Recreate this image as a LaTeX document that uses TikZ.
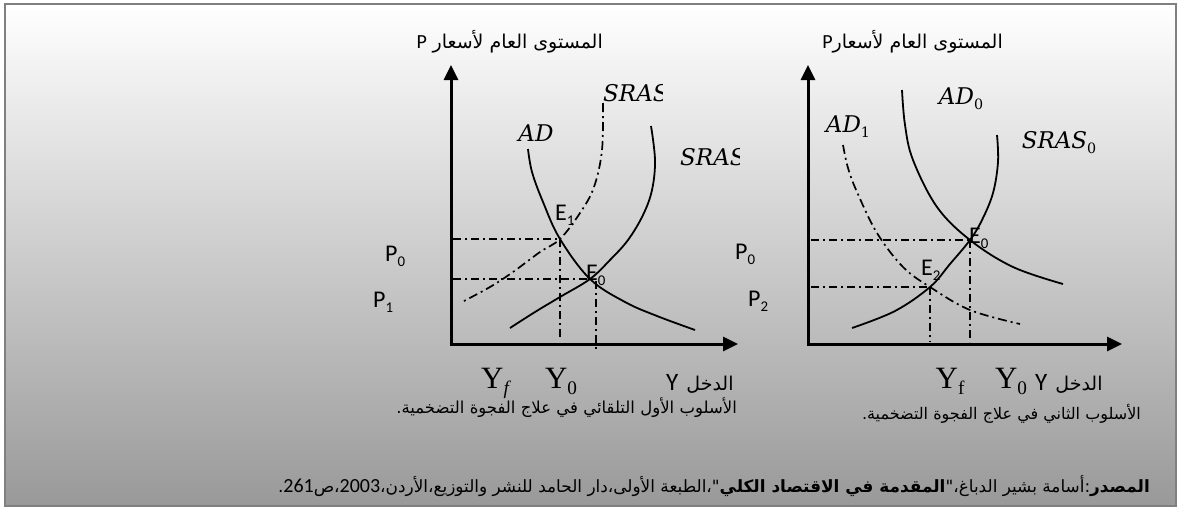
\documentclass[tikz,border=0pt]{standalone}
\usepackage{fontspec}
\usetikzlibrary{arrows.meta}
\TeXXeTstate=1
\newfontfamily\arabicfont[Script=Arabic]{DejaVu Sans}
\newfontfamily\carl{Carlito}
\newfontfamily\dvserif{DejaVu Serif}
\newfontfamily\libserif{Liberation Serif}
\newcommand{\arb}[1]{{\arabicfont\beginR #1\endR}}
\newcommand{\sbs}[1]{\raisebox{-0.22em}{\scalebox{0.62}{#1}}}
\begin{document}
\begin{tikzpicture}[x=1pt,y=-1pt,
  axisline/.style={line width=3pt,{Triangle[length=15pt,width=14pt]}-{Triangle[length=15pt,width=14pt]}},
  curve/.style={line width=1.8pt},
  dcurve/.style={line width=1.7pt,dash pattern=on 9pt off 4pt on 2pt off 4pt},
  guide/.style={line width=1.6pt,dash pattern=on 8pt off 4pt on 2pt off 4pt},
  lbl/.style={font=\carl\fontsize{24}{26}\selectfont,inner sep=0pt},
  mlab/.style={font=\dvserif\itshape\fontsize{23}{25}\selectfont,inner sep=0pt},
  ylab/.style={font=\libserif\fontsize{31}{32}\selectfont,inner sep=0pt},
  artext/.style={font=\fontsize{16.5}{18}\selectfont,inner sep=0pt},
  titletext/.style={font=\fontsize{19}{21}\selectfont,inner sep=0pt}]
\useasboundingbox (0,0) rectangle (1180,509);
\fill[white] (0,0) rectangle (1180,509);
\shade[top color=white,middle color=black!15,bottom color=black!40] (5,4) rectangle (1176,506);
\draw[black!50,line width=2.5pt] (5,4) rectangle (1176,506);

% ---------------- left chart ----------------
\coordinate (LT) at (451,65);
\coordinate (LO) at (451,344);
\coordinate (LR) at (738,344);
\coordinate (LE1) at (560,239);
\coordinate (LE0) at (590,279);
\coordinate (LP0) at (453,239);
\coordinate (LP1) at (453,279);
\coordinate (LY0) at (560,340);
\coordinate (LVa) at (596,281);
\coordinate (LVb) at (596,352);

\draw[guide] (LP0) -- (LE1);
\draw[guide] (LP1) -- (LE0);
\draw[guide] (LE1) -- (LY0);
\draw[guide] (LVa) -- (LVb);

\draw[curve] plot[smooth,tension=0.6] coordinates {(528,149) (532,172) (543,202) (560,239) (590,279) (625,302) (657,316) (695,330)};
\draw[curve] plot[smooth,tension=0.6] coordinates {(651,126) (655,160) (652,190) (643,215) (628,240) (610,260) (590,279) (560,297) (535,312) (510,328)};
\draw[dcurve] plot[smooth,tension=0.6] coordinates {(603,103) (602,150) (594,187) (580,213) (560,239) (540,252) (513,272) (490,287) (462,302)};

\draw[axisline] (LT) -- (LO) -- (LR);

\node[titletext,anchor=base east] (Lptitle) at (603,48) {{\carl\fontsize{20}{22}\selectfont P}\ \arb{المستوى العام لأسعار}};
\node[lbl,anchor=west] (LP0lab) at (385,256) {P\sbs{0}};
\node[lbl,anchor=west] (LP1lab) at (373,302) {P\sbs{1}};
\node[lbl,anchor=west] (LE1lab) at (555,215) {E\sbs{1}};
\node[lbl,anchor=west] (LE0lab) at (586,275) {E\sbs{0}};
\node[mlab] (ADlab) at (536,133) {AD};
\begin{scope}
  \clip (590,70) rectangle (662,120);
  \node[mlab,anchor=west] (SRAS1lab) at (603,93) {SRAS};
\end{scope}
\begin{scope}
  \clip (670,130) rectangle (739,185);
  \node[mlab,anchor=west] (SRASlab) at (680,157) {SRAS};
\end{scope}
\node[ylab,anchor=base] (LYf) at (495,388) {Y\sbs{\itshape f}};
\node[ylab,anchor=base] (LYo) at (561,388) {Y\sbs{0}};
\node[titletext,anchor=base west] (LYlab) at (666,390) {{\carl\fontsize{25}{26}\selectfont Y}\hspace{8pt}\arb{الدخل}};

% ---------------- right chart ----------------
\coordinate (RT) at (808,65);
\coordinate (RO) at (808,344);
\coordinate (RR) at (1122,344);
\coordinate (RE0) at (970,240);
\coordinate (RE2) at (930,287);
\coordinate (RP0) at (811,240);
\coordinate (RP2) at (811,287);
\coordinate (RYf) at (930,342);
\coordinate (RY0) at (970,342);

\draw[guide] (RP0) -- (RE0);
\draw[guide] (RP2) -- (RE2);
\draw[guide] (RE2) -- (RYf);
\draw[guide] (RE0) -- (RY0);

\draw[curve] plot[smooth,tension=0.6] coordinates {(902,90) (905,125) (913,160) (937,207) (970,240) (1013,267) (1063,284)};
\draw[curve] plot[smooth,tension=0.6] coordinates {(997,135) (998,162) (993,193) (982,220) (970,240) (950,264) (930,287) (895,311) (852,328)};
\draw[dcurve] plot[smooth,tension=0.6] coordinates {(843,145) (848,168) (857,192) (877,233) (903,267) (930,287) (970,310) (1020,324)};

\draw[axisline] (RT) -- (RO) -- (RR);

\node[titletext,anchor=base east] (Rptitle) at (1003,48) {{\carl\fontsize{20}{22}\selectfont P}\arb{المستوى العام لأسعار}};
\node[lbl,anchor=west] (RP0lab) at (735,254) {P\sbs{0}};
\node[lbl,anchor=west] (RP2lab) at (748,301) {P\sbs{2}};
\node[lbl,anchor=west] (RE0lab) at (969,238) {E\sbs{0}};
\node[lbl,anchor=west] (RE2lab) at (921,270) {E\sbs{2}};
\node[mlab] (AD0lab) at (961,99) {AD\sbs{\upshape 0}};
\node[mlab] (AD1lab) at (848,127) {AD\sbs{\upshape 1}};
\node[mlab] (SRAS0lab) at (1059,143) {SRAS\sbs{\upshape 0}};
\node[ylab,anchor=base] (RYflab) at (950,388) {Y\sbs{f}};
\node[ylab,anchor=base] (RY0lab) at (1011,388) {Y\sbs{0}};
\node[titletext,anchor=base west] (RYlab) at (1035,390) {{\carl\fontsize{25}{26}\selectfont Y}\hspace{8pt}\arb{الدخل}};

% ---------------- captions ----------------
\node[artext,anchor=east] (capL) at (737,408) {\arb{الأسلوب الأول التلقائي في علاج الفجوة التضخمية.}};
\node[font=\fontsize{16}{18}\selectfont,inner sep=0pt,anchor=east] (capR) at (1141,414) {\arb{الأسلوب الثاني في علاج الفجوة التضخمية.}};
\node[font=\fontsize{16.9}{19}\selectfont,inner sep=0pt,anchor=east] (src) at (1150,486) {\arb{\textbf{المصدر}:أسامة بشير الدباغ،"\textbf{المقدمة في الاقتصاد الكلي}"،الطبعة الأولى،دار الحامد للنشر والتوزيع،الأردن،\beginL{\carl\fontsize{20}{21}\selectfont 2003}\endL،ص\beginL{\carl\fontsize{20}{21}\selectfont 261}\endL.}};
\end{tikzpicture}
\end{document}
